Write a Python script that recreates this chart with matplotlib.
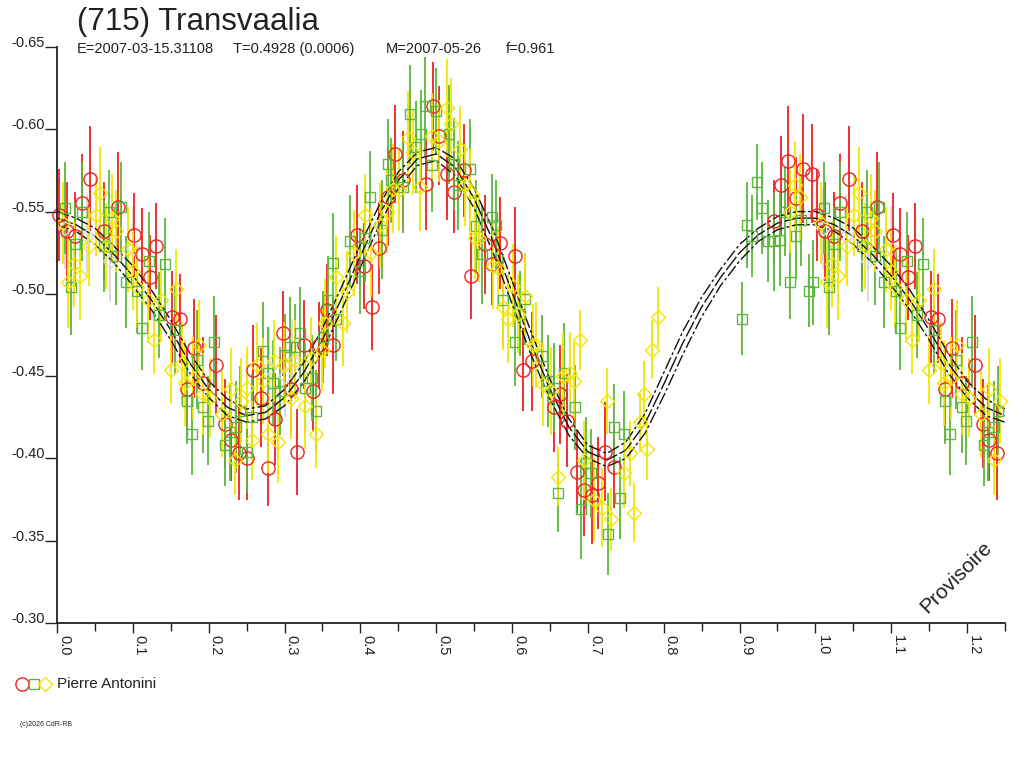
import numpy as np
import matplotlib
matplotlib.use("Agg")
import matplotlib.pyplot as plt
from matplotlib.lines import Line2D
from matplotlib.ticker import MultipleLocator, FuncFormatter

plt.rcParams['font.family'] = ['Liberation Sans', 'DejaVu Sans']
plt.rcParams['axes.unicode_minus'] = False

title = "(715) Transvaalia"
info = ["E=2007-03-15.31108", "T=0.4928 (0.0006)", "M=2007-05-26", "f=0.961"]
observer = "Pierre Antonini"

# fitted light curve, phase 0..1 step 0.025 (mag), and its half-width
fit_phase = [0.000, 0.025, 0.050, 0.075, 0.100, 0.125, 0.150, 0.175, 0.200, 0.225,
             0.250, 0.275, 0.300, 0.325, 0.350, 0.375, 0.400, 0.425, 0.450, 0.475,
             0.500, 0.525, 0.550, 0.575, 0.600, 0.625, 0.650, 0.675, 0.700, 0.725,
             0.750, 0.775, 0.800, 0.825, 0.850, 0.875, 0.900, 0.925, 0.950, 0.975, 1.000]
fit_mag = [-0.546, -0.542, -0.535, -0.524, -0.511, -0.496, -0.478, -0.458, -0.442, -0.431,
           -0.426, -0.428, -0.437, -0.452, -0.472, -0.497, -0.523, -0.548, -0.569, -0.582,
           -0.585, -0.577, -0.558, -0.532, -0.501, -0.470, -0.442, -0.419, -0.404, -0.399,
           -0.405, -0.421, -0.445, -0.470, -0.492, -0.510, -0.525, -0.536, -0.543, -0.546, -0.546]
fit_width = [0.004, 0.004, 0.005, 0.005, 0.006, 0.006, 0.006, 0.006, 0.005, 0.005,
             0.004, 0.004, 0.005, 0.006, 0.007, 0.007, 0.007, 0.006, 0.005, 0.004,
             0.004, 0.005, 0.006, 0.007, 0.007, 0.007, 0.006, 0.005, 0.004, 0.004,
             0.005, 0.006, 0.007, 0.007, 0.006, 0.005, 0.005, 0.004, 0.004, 0.004, 0.004]

# (phase, mag, err) per session
red = [
    (0.002, -0.548, 0.028), (0.013, -0.538, 0.030), (0.024, -0.535, 0.027), (0.033, -0.555, 0.030),
    (0.044, -0.570, 0.032), (0.062, -0.538, 0.030), (0.081, -0.553, 0.033), (0.102, -0.536, 0.025),
    (0.112, -0.524, 0.028), (0.122, -0.510, 0.026), (0.131, -0.529, 0.026), (0.152, -0.486, 0.028),
    (0.162, -0.485, 0.027), (0.171, -0.442, 0.025), (0.180, -0.467, 0.030), (0.193, -0.446, 0.028),
    (0.210, -0.457, 0.030), (0.221, -0.421, 0.027), (0.229, -0.411, 0.025), (0.240, -0.403, 0.028),
    (0.250, -0.400, 0.025), (0.259, -0.454, 0.027), (0.269, -0.437, 0.030), (0.278, -0.394, 0.023),
    (0.288, -0.424, 0.028), (0.298, -0.476, 0.026), (0.308, -0.442, 0.028), (0.317, -0.404, 0.026),
    (0.326, -0.469, 0.027), (0.337, -0.441, 0.025), (0.346, -0.469, 0.026), (0.356, -0.490, 0.028),
    (0.364, -0.469, 0.030), (0.396, -0.536, 0.030), (0.405, -0.517, 0.026), (0.415, -0.492, 0.026),
    (0.424, -0.528, 0.028), (0.437, -0.559, 0.030), (0.446, -0.585, 0.030), (0.456, -0.569, 0.030),
    (0.487, -0.567, 0.028), (0.496, -0.614, 0.027), (0.504, -0.596, 0.030), (0.514, -0.573, 0.028),
    (0.524, -0.562, 0.025), (0.536, -0.575, 0.028), (0.546, -0.511, 0.026), (0.564, -0.530, 0.030),
    (0.573, -0.518, 0.025), (0.584, -0.531, 0.028), (0.604, -0.523, 0.030), (0.614, -0.454, 0.025),
    (0.626, -0.459, 0.030), (0.655, -0.431, 0.027), (0.663, -0.439, 0.030), (0.673, -0.423, 0.028),
    (0.685, -0.392, 0.025), (0.695, -0.381, 0.028), (0.705, -0.378, 0.030), (0.714, -0.385, 0.028),
    (0.723, -0.404, 0.030), (0.735, -0.395, 0.025), (0.945, -0.544, 0.025), (0.954, -0.566, 0.030),
    (0.964, -0.581, 0.033), (0.975, -0.558, 0.025), (0.983, -0.576, 0.033), (0.995, -0.573, 0.030),
]

green = [
    (0.011, -0.552, 0.028), (0.018, -0.504, 0.029), (0.024, -0.530, 0.026), (0.033, -0.550, 0.030),
    (0.062, -0.529, 0.028), (0.068, -0.550, 0.025), (0.078, -0.523, 0.030), (0.084, -0.553, 0.027),
    (0.091, -0.507, 0.028), (0.106, -0.502, 0.026), (0.112, -0.479, 0.025), (0.121, -0.520, 0.030),
    (0.134, -0.487, 0.026), (0.142, -0.518, 0.028), (0.156, -0.478, 0.027), (0.171, -0.435, 0.026),
    (0.178, -0.415, 0.025), (0.185, -0.460, 0.030), (0.193, -0.431, 0.028), (0.199, -0.423, 0.027),
    (0.207, -0.471, 0.028), (0.222, -0.408, 0.025), (0.228, -0.416, 0.030), (0.236, -0.419, 0.028),
    (0.241, -0.429, 0.027), (0.251, -0.404, 0.025), (0.257, -0.425, 0.026), (0.271, -0.465, 0.030),
    (0.278, -0.452, 0.028), (0.285, -0.446, 0.026), (0.294, -0.441, 0.027), (0.301, -0.463, 0.025),
    (0.307, -0.468, 0.030), (0.314, -0.468, 0.026), (0.321, -0.476, 0.028), (0.327, -0.443, 0.027),
    (0.336, -0.449, 0.026), (0.342, -0.429, 0.025), (0.351, -0.474, 0.028), (0.357, -0.496, 0.027),
    (0.364, -0.519, 0.030), (0.368, -0.485, 0.026), (0.386, -0.532, 0.028), (0.400, -0.514, 0.026),
    (0.406, -0.534, 0.027), (0.413, -0.559, 0.028), (0.429, -0.539, 0.030), (0.436, -0.579, 0.027),
    (0.441, -0.569, 0.026), (0.456, -0.565, 0.028), (0.466, -0.609, 0.030), (0.473, -0.589, 0.028),
    (0.480, -0.597, 0.027), (0.485, -0.614, 0.030), (0.494, -0.578, 0.028), (0.500, -0.611, 0.026),
    (0.517, -0.597, 0.030), (0.524, -0.579, 0.028), (0.529, -0.566, 0.027), (0.544, -0.576, 0.030),
    (0.553, -0.541, 0.028), (0.560, -0.524, 0.030), (0.573, -0.547, 0.026), (0.579, -0.542, 0.027),
    (0.588, -0.496, 0.028), (0.604, -0.471, 0.027), (0.610, -0.488, 0.026), (0.617, -0.497, 0.028),
    (0.639, -0.462, 0.025), (0.648, -0.447, 0.028), (0.655, -0.443, 0.027), (0.660, -0.379, 0.024),
    (0.668, -0.452, 0.030), (0.683, -0.431, 0.026), (0.691, -0.369, 0.030), (0.698, -0.397, 0.028),
    (0.704, -0.391, 0.027), (0.727, -0.354, 0.025), (0.735, -0.419, 0.026), (0.742, -0.376, 0.025),
    (0.748, -0.415, 0.026), (0.903, -0.485, 0.022), (0.910, -0.542, 0.026), (0.916, -0.535, 0.025),
    (0.923, -0.568, 0.023), (0.930, -0.552, 0.028), (0.937, -0.532, 0.025), (0.945, -0.532, 0.030),
    (0.953, -0.533, 0.028), (0.960, -0.550, 0.027), (0.967, -0.507, 0.022), (0.975, -0.535, 0.026),
    (0.981, -0.545, 0.028), (0.991, -0.502, 0.022), (0.997, -0.507, 0.026),
]

yellow = [
    (0.008, -0.543, 0.025), (0.015, -0.507, 0.028), (0.022, -0.518, 0.026), (0.030, -0.511, 0.027),
    (0.042, -0.529, 0.024), (0.051, -0.548, 0.025), (0.057, -0.561, 0.028), (0.065, -0.529, 0.026),
    (0.073, -0.546, 0.027), (0.078, -0.538, 0.025), (0.093, -0.527, 0.026), (0.100, -0.514, 0.024),
    (0.105, -0.504, 0.025), (0.120, -0.496, 0.026), (0.128, -0.472, 0.021), (0.137, -0.496, 0.025),
    (0.150, -0.454, 0.021), (0.157, -0.503, 0.024), (0.165, -0.458, 0.025), (0.169, -0.446, 0.026),
    (0.179, -0.449, 0.025), (0.187, -0.469, 0.027), (0.193, -0.439, 0.025), (0.202, -0.437, 0.024),
    (0.218, -0.427, 0.026), (0.229, -0.442, 0.025), (0.235, -0.399, 0.021), (0.243, -0.435, 0.026),
    (0.250, -0.443, 0.025), (0.257, -0.411, 0.024), (0.264, -0.457, 0.025), (0.272, -0.447, 0.026),
    (0.278, -0.415, 0.024), (0.286, -0.459, 0.025), (0.291, -0.410, 0.025), (0.299, -0.457, 0.026),
    (0.308, -0.437, 0.025), (0.314, -0.460, 0.024), (0.327, -0.432, 0.026), (0.335, -0.461, 0.025),
    (0.342, -0.415, 0.021), (0.349, -0.466, 0.025), (0.354, -0.482, 0.027), (0.368, -0.510, 0.025),
    (0.377, -0.482, 0.026), (0.383, -0.501, 0.025), (0.391, -0.525, 0.026), (0.406, -0.548, 0.025),
    (0.414, -0.525, 0.027), (0.426, -0.542, 0.026), (0.435, -0.550, 0.025), (0.443, -0.564, 0.027),
    (0.451, -0.563, 0.025), (0.463, -0.595, 0.028), (0.470, -0.586, 0.026), (0.478, -0.565, 0.027),
    (0.494, -0.596, 0.026), (0.504, -0.593, 0.025), (0.514, -0.613, 0.030), (0.520, -0.603, 0.028),
    (0.531, -0.588, 0.026), (0.538, -0.566, 0.025), (0.544, -0.562, 0.026), (0.551, -0.534, 0.025),
    (0.557, -0.534, 0.027), (0.575, -0.517, 0.026), (0.581, -0.516, 0.025), (0.588, -0.492, 0.026),
    (0.595, -0.485, 0.027), (0.601, -0.505, 0.025), (0.608, -0.488, 0.024), (0.617, -0.499, 0.026),
    (0.627, -0.469, 0.025), (0.632, -0.469, 0.026), (0.641, -0.445, 0.025), (0.651, -0.441, 0.027),
    (0.661, -0.389, 0.018), (0.667, -0.450, 0.026), (0.676, -0.452, 0.025), (0.682, -0.447, 0.024),
    (0.689, -0.472, 0.018), (0.695, -0.399, 0.024), (0.708, -0.375, 0.025), (0.718, -0.370, 0.024),
    (0.725, -0.435, 0.020), (0.731, -0.363, 0.019), (0.748, -0.391, 0.021), (0.755, -0.403, 0.020),
    (0.761, -0.367, 0.018), (0.769, -0.422, 0.018), (0.774, -0.439, 0.020), (0.778, -0.406, 0.019),
    (0.784, -0.466, 0.018), (0.792, -0.486, 0.018), (0.966, -0.550, 0.025), (0.973, -0.566, 0.027),
    (0.980, -0.559, 0.026),
]

grey = [
    (0.010, -0.540, 0.025), (0.040, -0.535, 0.025), (0.070, -0.520, 0.025), (0.100, -0.528, 0.025),
    (0.280, -0.455, 0.025), (0.300, -0.450, 0.025), (0.310, -0.460, 0.025),
]


def wrap(points):
    # phases below 0.25 are shown again after phase 1
    arr = np.array(points)
    extra = arr[arr[:, 0] < 0.25].copy()
    extra[:, 0] += 1.0
    return np.vstack([arr, extra])


fig = plt.figure(figsize=(10.24, 7.68), dpi=100)
ax = fig.add_axes([57 / 1024, 1 - 623 / 768, 948 / 1024, 576 / 768])

styles = [
    (grey, '#d8d8d8', 'D', 7),
    (red, '#ee2222', 'o', 9.5),
    (green, '#5cb83c', 's', 7),
    (yellow, '#f4e600', 'D', 7),
]
for pts, col, mk, ms in styles:
    d = wrap(pts)
    ax.errorbar(d[:, 0], d[:, 1], yerr=d[:, 2], fmt=mk, mfc='none', mec=col, mew=1.0,
                ms=ms, ecolor=col, elinewidth=1.3, capsize=0, clip_on=False)

# fit curve and its band
fp = np.array(fit_phase)
fm = np.array(fit_mag)
fw = np.array(fit_width)
keep = fp[1:] <= 0.25
cp = np.concatenate([fp, fp[1:][keep] + 1.0])
cm = np.concatenate([fm, fm[1:][keep]])
cw = np.concatenate([fw, fw[1:][keep]])
ax.plot(cp, cm - cw, color='#111111', lw=1.0, ls=(0, (9, 2, 2, 2)))
ax.plot(cp, cm, color='#111111', lw=1.0, ls=(0, (12, 2)))
ax.plot(cp, cm + cw, color='#111111', lw=1.0, ls=(0, (9, 2, 2, 2)))

ax.set_xlim(0, 1.25)
ax.set_ylim(-0.30, -0.65)
for s in ['top', 'right']:
    ax.spines[s].set_visible(False)
for s in ['left', 'bottom']:
    ax.spines[s].set_linewidth(1.3)
    ax.spines[s].set_color('#222222')

ax.set_yticks(np.arange(-0.65, -0.299, 0.05))
ax.yaxis.set_major_formatter(FuncFormatter(lambda v, p: f"{v:.2f}"))
ax.tick_params(axis='y', direction='out', length=8.5, width=1.0, pad=0, labelsize=10.5,
               colors='#222222')
for lab in ax.get_yticklabels():
    lab.set_verticalalignment('baseline')

ax.xaxis.set_major_locator(MultipleLocator(0.1))
ax.xaxis.set_minor_locator(MultipleLocator(0.05))
ax.xaxis.set_major_formatter(FuncFormatter(lambda v, p: f"{v:.1f}"))
ax.tick_params(axis='x', which='major', direction='out', length=7.5, width=1.0, pad=1,
               labelsize=10.5, colors='#222222', labelrotation=-90)
ax.tick_params(axis='x', which='minor', direction='out', length=6, width=1.0, colors='#222222')
for lab in ax.get_xticklabels():
    lab.set_horizontalalignment('left')
    lab.set_verticalalignment('top')

ax.text(0.949, 0.08, "Provisoire", transform=ax.transAxes, rotation=45, fontsize=15,
        ha='center', va='center', color='#222222')

# header
fig.text(77 / 1024, 1 - 30 / 768, title, fontsize=22.5, color='#222222', va='baseline')
for x, s in zip([77, 233, 386, 506], info):
    fig.text(x / 1024, 1 - 53 / 768, s, fontsize=10.5, color='#222222', va='baseline')

# legend
leg_y = 1 - 684 / 768
for x, col, mk, ms in [(22, '#ee2222', 'o', 9.5), (34, '#5cb83c', 's', 7), (45, '#f4e600', 'D', 7)]:
    fig.add_artist(Line2D([x / 1024], [leg_y], marker=mk, ms=ms, mfc='none', mec=col, mew=1.0,
                          ls='none', transform=fig.transFigure))
fig.text(57 / 1024, leg_y, observer, fontsize=11, color='#222222', va='center')
fig.text(20 / 1024, 1 - 725 / 768, "(c)2026 CdR-RB", fontsize=5, color='#222222', va='center')

fig.savefig("out.png", dpi=100)
